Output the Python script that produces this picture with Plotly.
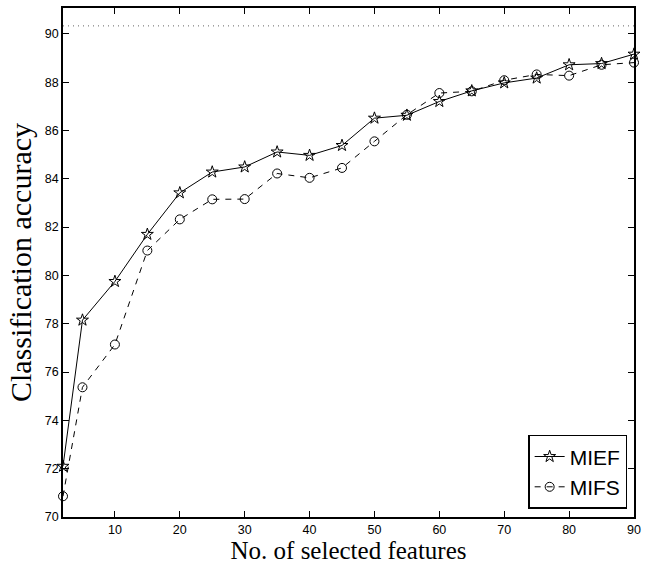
import plotly.graph_objects as go

features = [2, 5, 10, 15, 20, 25, 30, 35, 40, 45, 50, 55, 60, 65, 70, 75, 80, 85, 90]
mief = [72.1, 78.15, 79.75, 81.7, 83.42, 84.28, 84.49, 85.11, 84.97, 85.38, 86.51, 86.63, 87.2, 87.64, 87.97, 88.17, 88.72, 88.77, 89.16]
mifs = [70.86, 75.37, 77.14, 81.03, 82.32, 83.15, 83.16, 84.22, 84.04, 84.45, 85.55, 86.65, 87.55, 87.62, 88.08, 88.32, 88.27, 88.72, 88.81]
baseline = 90.33
x_ticks = [10, 20, 30, 40, 50, 60, 70, 80, 90]
y_ticks = [70, 72, 74, 76, 78, 80, 82, 84, 86, 88, 90]

fig = go.Figure()
fig.add_trace(go.Scatter(
    x=features, y=mief, name="MIEF", mode="lines+markers",
    line=dict(color="black", width=1),
    marker=dict(symbol="star-open", size=9, color="black", line=dict(width=1)),
    cliponaxis=False))
fig.add_trace(go.Scatter(
    x=features, y=mifs, name="MIFS", mode="lines+markers",
    line=dict(color="black", width=1, dash="6px,6px"),
    marker=dict(symbol="circle-open", size=9, color="black", line=dict(width=1)),
    cliponaxis=False))

fig.add_shape(type="line", xref="paper", x0=0, x1=1, yref="y", y0=baseline, y1=baseline,
              line=dict(color="#666666", width=1, dash="1px,4px"))

axis_common = dict(showgrid=False, zeroline=False, showline=True, linecolor="black", linewidth=1.5,
                   mirror="ticks", ticks="inside", ticklen=6, tickwidth=1, tickcolor="black",
                   tickfont=dict(family="Liberation Sans, Arial", size=12.5, color="black"))

fig.update_xaxes(range=[2, 90], tickvals=x_ticks,
                 title=dict(text="No. of selected features",
                            font=dict(family="Liberation Serif, Times New Roman", size=25, color="black"),
                            standoff=0),
                 **axis_common)
fig.update_yaxes(range=[70, 91.07], tickvals=y_ticks,
                 title=dict(text="Classification accuracy",
                            font=dict(family="Liberation Serif, Times New Roman", size=30, color="black"),
                            standoff=4),
                 **axis_common)

fig.update_layout(
    width=647, height=571,
    margin=dict(l=63, r=10, t=6, b=54),
    plot_bgcolor="white", paper_bgcolor="white",
    showlegend=True,
    legend=dict(x=0.988, y=0.016, xanchor="right", yanchor="bottom",
                bordercolor="black", borderwidth=1.5, bgcolor="white",
                font=dict(family="Liberation Sans, Arial", size=21, color="black"),
                tracegroupgap=0, itemwidth=30),
)

fig.write_html("out.html")
